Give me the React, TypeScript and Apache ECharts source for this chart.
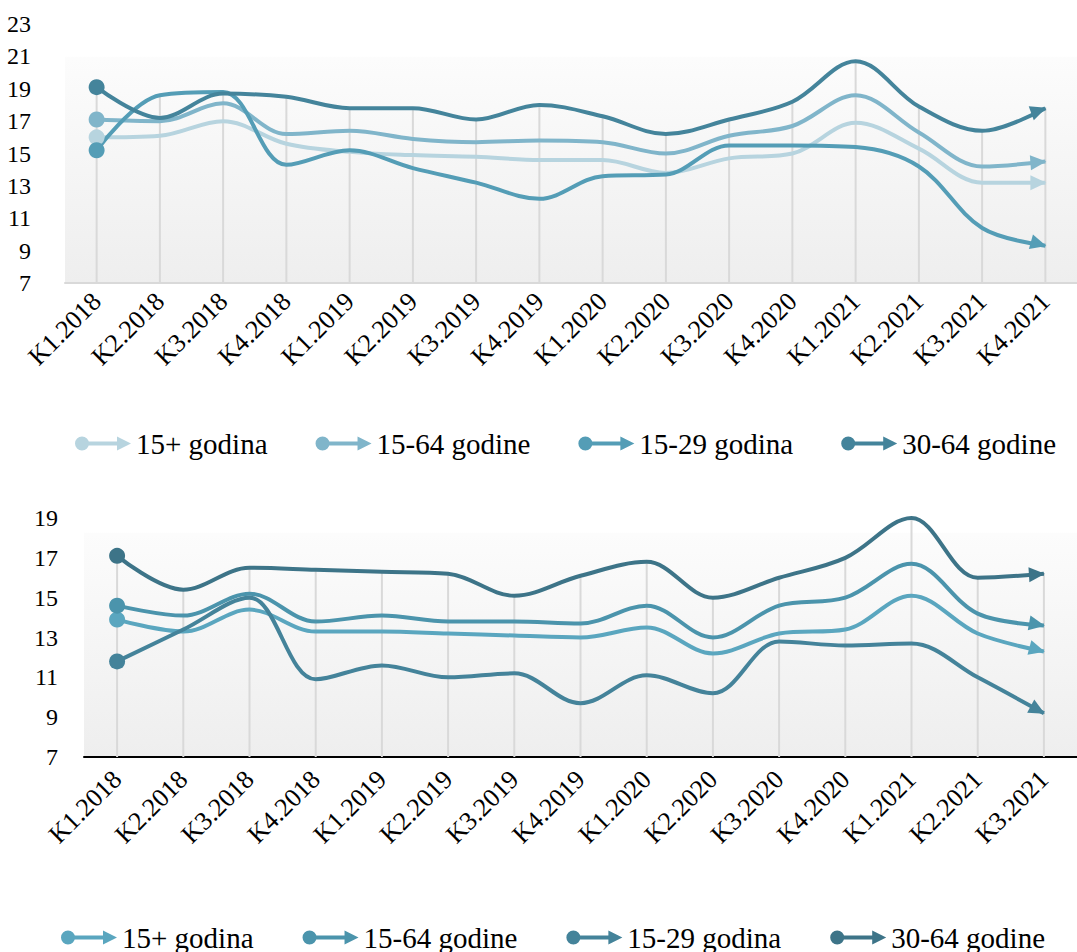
import React, { useEffect, useRef } from "react";
import * as echarts from "echarts";

// Quarter labels
const topCategories = [
  "K1.2018", "K2.2018", "K3.2018", "K4.2018",
  "K1.2019", "K2.2019", "K3.2019", "K4.2019",
  "K1.2020", "K2.2020", "K3.2020", "K4.2020",
  "K1.2021", "K2.2021", "K3.2021", "K4.2021",
];
const bottomCategories = [
  "K1.2018", "K2.2018", "K3.2018", "K4.2018",
  "K1.2019", "K2.2019", "K3.2019", "K4.2019",
  "K1.2020", "K2.2020", "K3.2020", "K4.2020",
  "K1.2021", "K2.2021", "K3.2021",
];

const seriesNames = ["15+ godina", "15-64 godine", "15-29 godina", "30-64 godine"];

// Upper chart values
const top15plus = [16.0, 16.1, 17.0, 15.6, 15.1, 14.9, 14.8, 14.6, 14.6, 13.8, 14.7, 15.0, 16.9, 15.3, 13.2, 13.2];
const top15to64 = [17.1, 17.0, 18.1, 16.2, 16.4, 15.9, 15.7, 15.8, 15.7, 15.0, 16.1, 16.7, 18.6, 16.3, 14.2, 14.5];
const top15to29 = [15.2, 18.6, 18.8, 14.3, 15.2, 14.1, 13.2, 12.2, 13.6, 13.7, 15.5, 15.5, 15.4, 14.2, 10.4, 9.3];
const top30to64 = [19.1, 17.2, 18.7, 18.5, 17.8, 17.8, 17.1, 18.0, 17.3, 16.2, 17.1, 18.2, 20.7, 17.9, 16.4, 17.8];

// Lower chart values
const bottom15plus = [13.9, 13.3, 14.4, 13.3, 13.3, 13.2, 13.1, 13.0, 13.5, 12.2, 13.2, 13.4, 15.1, 13.2, 12.3];
const bottom15to64 = [14.6, 14.1, 15.2, 13.8, 14.1, 13.8, 13.8, 13.7, 14.6, 13.0, 14.6, 15.0, 16.7, 14.2, 13.6];
const bottom15to29 = [11.8, 13.4, 15.0, 10.9, 11.6, 11.0, 11.2, 9.7, 11.1, 10.2, 12.8, 12.6, 12.7, 11.0, 9.2];
const bottom30to64 = [17.1, 15.4, 16.5, 16.4, 16.3, 16.2, 15.1, 16.1, 16.8, 15.0, 16.0, 17.0, 19.0, 16.0, 16.2];

const topColors = ["#b7d4df", "#80b5ca", "#549db6", "#44849b"];
const bottomColors = ["#5aa6bf", "#4b94ac", "#44839a", "#3d7488"];

const FONT = "'Liberation Serif', 'Times New Roman', serif";
// Round tail, shaft and arrowhead, as in the line markers
const LEGEND_ICON =
  "path://M0,8A7,7 0 1 1 14,8A7,7 0 1 1 0,8Z M7,6L42,6L42,1L56,8L42,15L42,10L7,10Z";

type Spec = {
  categories: string[];
  values: number[][];
  colors: string[];
  yMax: number;
  grid: { left: number; top: number; width: number; height: number };
  fadeStart: number;
  axisLineColor: string;
  yLabelMargin: number;
  xLabelMargin: number;
  legendLeft: number;
  legendTop: number;
  legendGap: number;
};

type Arrow = { rotate: number; offset: number[] };

function buildOption(spec: Spec, arrows?: Arrow[]) {
  // Drop lines run from the highest series value at each quarter down to the axis
  const dropTops = spec.categories.map((_, j) =>
    Math.max(...spec.values.map((vals) => vals[j]))
  );
  return {
    animation: false,
    grid: {
      ...spec.grid,
      show: true,
      borderWidth: 0,
      backgroundColor: new echarts.graphic.LinearGradient(0, 0, 0, 1, [
        { offset: 0, color: "#ffffff" },
        { offset: spec.fadeStart, color: "#ffffff" },
        { offset: spec.fadeStart + 0.005, color: "#fcfcfc" },
        { offset: 1, color: "#eeeeee" },
      ]),
      containLabel: false,
    },
    legend: {
      data: seriesNames,
      left: spec.legendLeft,
      top: spec.legendTop,
      itemWidth: 56,
      itemHeight: 16,
      itemGap: spec.legendGap,
      icon: LEGEND_ICON,
      selectedMode: false,
      textStyle: { fontFamily: FONT, fontSize: 29, color: "#000" },
    },
    xAxis: {
      type: "category",
      data: spec.categories,
      boundaryGap: true,
      axisLine: { lineStyle: { color: spec.axisLineColor, width: 2 } },
      axisTick: { show: false },
      splitLine: { show: false },
      axisLabel: {
        rotate: 45,
        interval: 0,
        margin: spec.xLabelMargin,
        fontFamily: FONT,
        fontSize: 26,
        color: "#000",
      },
    },
    yAxis: {
      type: "value",
      min: 7,
      max: spec.yMax,
      interval: 2,
      axisLine: { show: false },
      axisTick: { show: false },
      splitLine: { show: false },
      axisLabel: {
        margin: spec.yLabelMargin,
        fontFamily: FONT,
        fontSize: 24,
        color: "#000",
      },
    },
    series: [
      {
        name: "drop",
        type: "bar",
        data: dropTops,
        barWidth: 2,
        itemStyle: { color: "#d9d9d9" },
        emphasis: { disabled: true },
        silent: true,
        z: 1,
      },
      ...seriesNames.map((name, i) => {
        const vals = spec.values[i];
        const last = vals.length - 1;
        return {
          name,
          type: "line",
          smooth: 0.35,
          clip: false,
          symbol: "none",
          showSymbol: true,
          showAllSymbol: true,
          color: spec.colors[i],
          lineStyle: { width: 4, color: spec.colors[i] },
          itemStyle: { color: spec.colors[i], opacity: 1 },
          emphasis: { disabled: true },
          z: 3,
          data: vals.map((v, j) => {
            if (j === 0) return { value: v, symbol: "circle", symbolSize: 16 };
            if (j === last)
              return {
                value: v,
                symbol: "triangle",
                symbolSize: [15, 16],
                symbolRotate: arrows ? arrows[i].rotate : 0,
                symbolOffset: arrows ? arrows[i].offset : [0, 0],
              };
            return v;
          }),
        };
      }),
    ],
  };
}

// Points each end arrow along the last segment, using the chart's own scales
function computeArrows(chart: echarts.ECharts, spec: Spec): Arrow[] {
  return spec.values.map((vals, i) => {
    const n = vals.length;
    const p1 = chart.convertToPixel({ seriesIndex: i + 1 }, [n - 2, vals[n - 2]]) as number[];
    const p2 = chart.convertToPixel({ seriesIndex: i + 1 }, [n - 1, vals[n - 1]]) as number[];
    const dx = p2[0] - p1[0];
    const dy = p2[1] - p1[1];
    const len = Math.hypot(dx, dy) || 1;
    const rotate = (Math.atan2(-dy, dx) * 180) / Math.PI - 90;
    const back = 7;
    return { rotate, offset: [(-dx / len) * back, (-dy / len) * back] };
  });
}

function ChartPanel({ spec, height }: { spec: Spec; height: number }) {
  const ref = useRef<HTMLDivElement>(null);
  useEffect(() => {
    if (!ref.current) return;
    const chart = echarts.init(ref.current, undefined, { renderer: "svg" });
    chart.setOption(buildOption(spec));
    const arrows = computeArrows(chart, spec);
    chart.setOption(buildOption(spec, arrows), true);
    return () => chart.dispose();
  }, [spec]);
  return <div ref={ref} style={{ width: 1077, height }} />;
}

const topSpec: Spec = {
  categories: topCategories,
  values: [top15plus, top15to64, top15to29, top30to64],
  colors: topColors,
  yMax: 23,
  grid: { left: 65, top: 24, width: 1016, height: 259 },
  fadeStart: 0.125,
  axisLineColor: "#d9d9d9",
  yLabelMargin: 34,
  xLabelMargin: 14,
  legendLeft: 70,
  legendTop: 424,
  legendGap: 48,
};

const bottomSpec: Spec = {
  categories: bottomCategories,
  values: [bottom15plus, bottom15to64, bottom15to29, bottom30to64],
  colors: bottomColors,
  yMax: 19,
  grid: { left: 84, top: 42, width: 1014, height: 239 },
  fadeStart: 0.06,
  axisLineColor: "#000000",
  yLabelMargin: 26,
  xLabelMargin: 18,
  legendLeft: 56,
  legendTop: 442,
  legendGap: 49,
};

export default function App() {
  return (
    <div
      style={{
        position: "absolute",
        left: 0,
        top: 0,
        width: 1077,
        height: 952,
        background: "#ffffff",
        overflow: "hidden",
      }}
    >
      <ChartPanel spec={topSpec} height={476} />
      <ChartPanel spec={bottomSpec} height={476} />
    </div>
  );
}
